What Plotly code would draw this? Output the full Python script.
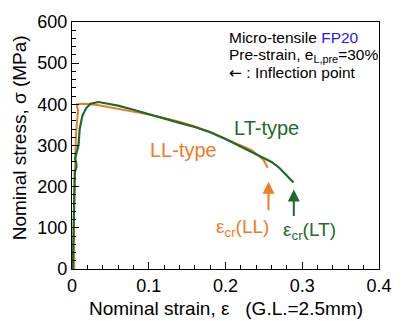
import plotly.graph_objects as go

# LL-type (orange)
eps_LL = [0.0030, 0.0028, 0.0025, 0.0035, 0.0042, 0.0050, 0.0062, 0.0075, 0.0080, 0.0068, 0.0065,
          0.010, 0.020, 0.035, 0.0557, 0.080, 0.0987, 0.120, 0.141, 0.162, 0.180, 0.204, 0.220,
          0.234, 0.246, 0.2506, 0.255]
sig_LL = [0, 60, 120, 200, 277, 320, 350, 370, 385, 392, 400,
          401, 401, 398, 391, 383, 375.6, 367, 357, 345, 333, 313, 300,
          289, 271, 261.5, 246]

# LT-type (green)
eps_LT = [0.0010, 0.0015, 0.0020, 0.0022, 0.0030, 0.0036, 0.0058, 0.0055, 0.0040, 0.0060, 0.0085,
          0.0100, 0.0135, 0.0186, 0.0240, 0.0346, 0.060, 0.080, 0.100, 0.120, 0.140, 0.160,
          0.180, 0.200, 0.220, 0.240, 0.260, 0.270, 0.280, 0.2886]
sig_LT = [0, 60, 120, 150, 214, 235, 248, 258, 268, 282, 301,
          340, 372, 391, 401.6, 405.6, 397, 387, 376, 366, 355, 345,
          332, 316, 298, 279, 260, 246, 226, 210]

ORANGE = "#F07A26"
GREEN = "#1C6B2C"
BLUE = "#1E1EE8"
FONT = "Liberation Sans, Arial, Helvetica, sans-serif"

fig = go.Figure()
fig.add_trace(go.Scatter(x=eps_LL, y=sig_LL, mode="lines",
                         line=dict(color=ORANGE, width=2), showlegend=False))
fig.add_trace(go.Scatter(x=eps_LT, y=sig_LT, mode="lines",
                         line=dict(color=GREEN, width=2.2), showlegend=False))

axis_common = dict(showline=True, linecolor="black", linewidth=1.2, mirror=True,
                   ticks="inside", ticklen=7, tickwidth=1, tickcolor="black",
                   showgrid=False, zeroline=False,
                   tickfont=dict(family=FONT, size=18, color="black"))

fig.update_xaxes(range=[0, 0.4], tickvals=[0, 0.1, 0.2, 0.3, 0.4],
                 ticktext=["0", "0.1", "0.2", "0.3", "0.4"],
                 minor=dict(dtick=0.02, ticks="inside", ticklen=4, tickcolor="black"),
                 **axis_common)
fig.update_yaxes(range=[0, 600], dtick=100,
                 minor=dict(dtick=20, ticks="inside", ticklen=4, tickcolor="black"),
                 **axis_common)

ann = []
# axis titles
ann.append(dict(text="Nominal strain, \u03b5\u00a0\u00a0\u00a0(G.L.=2.5mm)", xref="paper", yref="paper",
                x=0.5, y=(269 - 310) / 254, xanchor="center", yanchor="middle", showarrow=False,
                font=dict(family=FONT, size=19, color="black")))
ann.append(dict(text="Nominal stress, \u03c3 (MPa)", xref="paper", yref="paper",
                x=(18 - 72) / 316, y=(269 - 134) / 254, xanchor="center", yanchor="middle",
                textangle=-90, showarrow=False,
                font=dict(family=FONT, size=19, color="black")))
# info block
info_x = (232 - 72) / 316
ann.append(dict(text="Micro-tensile <span style='color:%s'>FP20</span>" % BLUE, xref="paper", yref="paper",
                x=info_x, y=(269 - 30.7) / 254, xanchor="left", yanchor="middle", showarrow=False,
                font=dict(family=FONT, size=15.5, color="black")))
ann.append(dict(text="Pre-strain, e<sub>L,pre</sub>=30%", xref="paper", yref="paper",
                x=info_x, y=(269 - 49.3) / 254, xanchor="left", yanchor="middle", showarrow=False,
                font=dict(family=FONT, size=15.5, color="black")))
ann.append(dict(text="<span style='font-family:DejaVu Sans'>\u2190</span> : Inflection point",
                xref="paper", yref="paper",
                x=info_x, y=(269 - 67.3) / 254, xanchor="left", yanchor="middle", showarrow=False,
                font=dict(family=FONT, size=15.5, color="black")))
# curve labels
ann.append(dict(text="LT-type", x=0.253, y=342, xref="x", yref="y", showarrow=False,
                font=dict(family=FONT, size=20, color=GREEN)))
ann.append(dict(text="LL-type", x=0.1456, y=288, xref="x", yref="y", showarrow=False,
                font=dict(family=FONT, size=20, color=ORANGE)))
ann.append(dict(text="\u03b5<sub>cr</sub>(LL)", x=0.2215, y=99, xref="x", yref="y", showarrow=False,
                font=dict(family=FONT, size=19, color=ORANGE)))
ann.append(dict(text="\u03b5<sub>cr</sub>(LT)", x=0.310, y=92, xref="x", yref="y", showarrow=False,
                font=dict(family=FONT, size=19, color=GREEN)))
# arrows
ann.append(dict(x=0.256, y=212, ax=0.256, ay=139, xref="x", yref="y", axref="x", ayref="y",
                text="", showarrow=True, arrowhead=2, arrowsize=1.2, arrowwidth=2, arrowcolor=ORANGE))
ann.append(dict(x=0.289, y=193, ax=0.289, ay=125, xref="x", yref="y", axref="x", ayref="y",
                text="", showarrow=True, arrowhead=2, arrowsize=1.2, arrowwidth=2, arrowcolor=GREEN))

fig.update_layout(width=404, height=321, margin=dict(l=72, r=16, t=15, b=52),
                  plot_bgcolor="white", paper_bgcolor="white", annotations=ann,
                  font=dict(family=FONT))

fig.write_html("out.html")
